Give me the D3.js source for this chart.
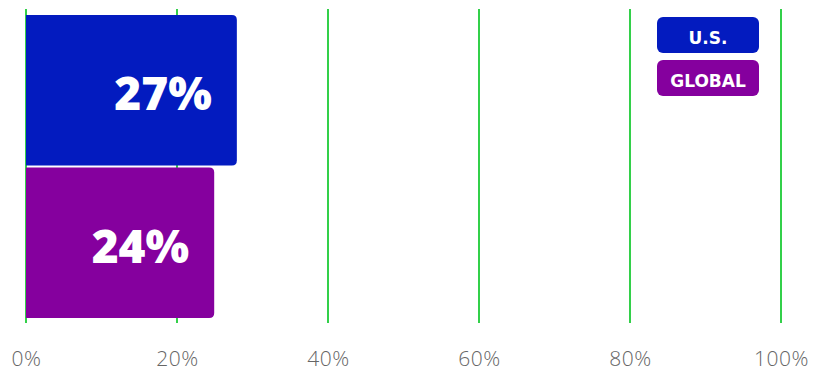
<!DOCTYPE html>
<html>
<head>
<meta charset="utf-8">
<script src="https://cdn.jsdelivr.net/npm/d3@7"></script>
<style>
body { margin: 0; background: #fff; }
text { font-family: "Open Sans", "DejaVu Sans", sans-serif; }
</style>
</head>
<body>
<svg id="chart"></svg>
<script>
// data
var categories = ["U.S.", "GLOBAL"];
var values = [27, 24];
var colors = ["#031bbf", "#85009e"];
var ticks = [0, 20, 40, 60, 80, 100];

var margin = {top: 9, right: 39, bottom: 48, left: 26};
var width = 820 - margin.left - margin.right;
var height = 371 - margin.top - margin.bottom;

var svg = d3.select("#chart")
  .attr("width", 820)
  .attr("height", 371);

var g = svg.append("g")
  .attr("transform", "translate(" + margin.left + "," + margin.top + ")");

var x = d3.scaleLinear().domain([0, 100]).range([0, width]);
var y = d3.scaleBand().domain(categories).range([6, height - 5]).paddingInner(0.013);

// grid lines
g.selectAll(".grid")
  .data(ticks)
  .enter()
  .append("line")
  .attr("x1", function(d){ return x(d); })
  .attr("x2", function(d){ return x(d); })
  .attr("y1", 0)
  .attr("y2", height)
  .style("stroke", "#33d04a")
  .style("stroke-width", 2);

// x axis labels
var xAxis = d3.axisBottom(x).tickValues(ticks).tickSize(0).tickPadding(28)
  .tickFormat(function(d){ return d + "%"; });
var ax = g.append("g")
  .attr("transform", "translate(0," + height + ")")
  .call(xAxis);
ax.select(".domain").remove();
ax.selectAll("text")
  .style("font-size", "21px")
  .style("font-weight", 300)
  .style("letter-spacing", "0.5px")
  .style("fill", "#666");

// bars (rounded end extends past the value)
var extra = 7;
var r = 5;
function barPath(w, h) {
  return "M0,0 H" + (w - r) + " Q" + w + ",0 " + w + "," + r +
    " V" + (h - r) + " Q" + w + "," + h + " " + (w - r) + "," + h + " H0 Z";
}
var bars = g.selectAll(".bar")
  .data(categories)
  .enter()
  .append("g")
  .attr("transform", function(d){ return "translate(0," + y(d) + ")"; });

bars.append("path")
  .attr("d", function(d, i){ return barPath(x(values[i]) + extra, y.bandwidth()); })
  .style("fill", function(d, i){ return colors[i]; });

bars.append("text")
  .attr("x", function(d, i){ return x(values[i]) + extra - 25; })
  .attr("y", y.bandwidth() / 2 + 20)
  .attr("text-anchor", "end")
  .style("font-size", "46px")
  .style("font-weight", 800)
  .style("fill", "#fff")
  .text(function(d, i){ return values[i] + "%"; });

// legend
var legend = svg.selectAll(".legend")
  .data(categories)
  .enter()
  .append("g")
  .attr("transform", function(d, i){ return "translate(657," + (17 + i * 43) + ")"; });

legend.append("rect")
  .attr("width", 102)
  .attr("height", 36)
  .attr("rx", 6)
  .style("fill", function(d, i){ return colors[i]; });

legend.append("text")
  .attr("x", 51)
  .attr("y", 26.5)
  .attr("text-anchor", "middle")
  .style("font-family", "'DejaVu Sans', sans-serif")
  .style("font-size", "17px")
  .style("font-weight", 700)
  .style("fill", "#fff")
  .text(function(d){ return d; });
</script>
</body>
</html>
